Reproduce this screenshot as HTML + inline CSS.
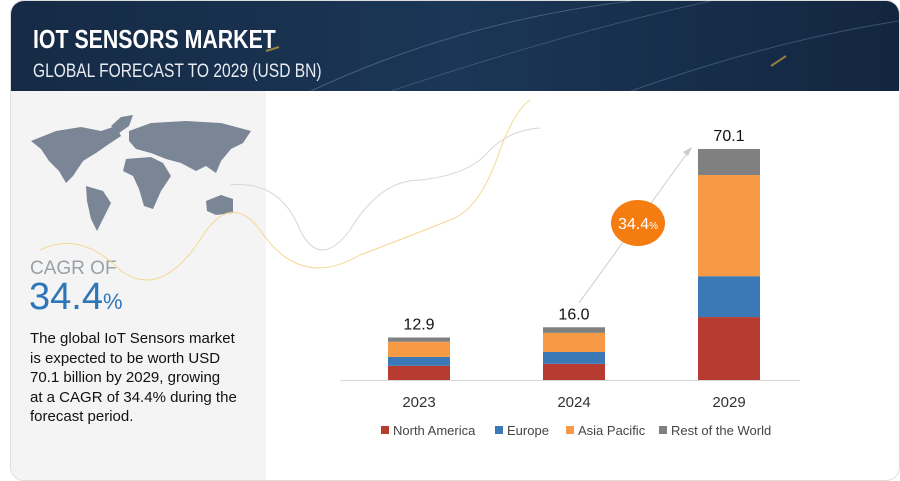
<!DOCTYPE html>
<html><head><meta charset="utf-8"><style>
body{margin:0;width:900px;height:481px;background:#fff;font-family:"Liberation Sans",sans-serif;overflow:hidden;position:relative}
#card{position:absolute;left:10px;top:0;width:888px;height:479px;border:1px solid #ddd;border-radius:14px;overflow:hidden;background:#fff}
#hdr{position:absolute;left:0;top:0;width:888px;height:90px;background:linear-gradient(90deg,#152a45,#1b3656 50%,#132640)}
#left{position:absolute;left:0;top:90px;width:255px;height:389px;background:#f4f4f4}
.t1{position:absolute;left:22px;top:23px;color:#fff;font:bold 26px "Liberation Sans Narrow","Liberation Sans",sans-serif;transform:scaleX(.82);transform-origin:left}
.t2{position:absolute;left:22px;top:60px;color:#e8ecf2;font:19px "Liberation Sans Narrow","Liberation Sans",sans-serif;transform:scaleX(.82);transform-origin:left}
</style></head><body>
<div id="card">
<div id="hdr">
<svg width="888" height="90" style="position:absolute;left:0;top:0">
<path d="M300 90 Q450 20 620 0" stroke="#6f8aa8" stroke-width="1" fill="none" opacity=".5"/>
<path d="M380 90 Q560 30 700 0" stroke="#6f8aa8" stroke-width="1" fill="none" opacity=".4"/>
<path d="M620 90 Q760 40 888 20" stroke="#6f8aa8" stroke-width="1" fill="none" opacity=".4"/>
<path d="M255 50 L268 46" stroke="#e3b53a" stroke-width="2" opacity=".6"/>
<path d="M760 65 L775 55" stroke="#e3b53a" stroke-width="2" opacity=".6"/>
</svg>
<div class="t1">IOT SENSORS MARKET</div>
<div class="t2">GLOBAL FORECAST TO 2029 (USD BN)</div>
</div>
<div id="left">
<svg width="255" height="150" style="position:absolute;left:0;top:0">
<g fill="#7a8595">
<path d="M20 50 L45 40 L70 36 L90 40 L105 35 L110 45 L95 55 L85 62 L72 70 L62 85 L55 92 L48 80 L38 70 L30 58Z"/>
<path d="M100 35 L110 26 L122 24 L118 35 L108 42Z"/>
<path d="M75 95 L92 100 L100 112 L92 128 L86 140 L80 128 L76 110Z"/>
<path d="M118 40 L140 32 L175 30 L210 32 L240 40 L232 52 L220 58 L210 70 L205 82 L195 75 L185 80 L170 72 L155 68 L140 62 L125 58 L118 50Z"/>
<path d="M115 68 L140 66 L152 72 L160 85 L150 100 L142 118 L133 115 L128 98 L122 85 L112 80Z"/>
<path d="M195 110 L210 104 L222 108 L222 122 L205 124 L196 120Z"/>
</g>
</svg>
<div style="position:absolute;left:19px;top:167px;color:#9aa0a8;font-size:19px">CAGR OF</div>
<div style="position:absolute;left:18px;top:185px;color:#2f76b8;font-size:38px">34.4<span style="font-size:22px">%</span></div>
<div style="position:absolute;left:19px;top:238px;color:#111;font-size:15px;line-height:19.5px;white-space:nowrap">The global IoT Sensors market<br>is expected to be worth USD<br>70.1 billion by 2029, growing<br>at a CAGR of 34.4% during the<br>forecast period.</div>
</div>
</div>
<svg id="chart" width="900" height="481" style="position:absolute;left:0;top:0"></svg>
<script>
const categories=["2023","2024","2029"];
const northAmerica=[4.3,4.9,19.1];
const europe=[2.7,3.6,12.4];
const asiaPacific=[4.6,5.8,30.7];
const restOfWorld=[1.3,1.7,7.9];
const totalLabels=["12.9","16.0","70.1"];
const seriesNames=["North America","Europe","Asia Pacific","Rest of the World"];
const colors=["#b83b32","#3a78b6","#f79a45","#808080"];
const series=[northAmerica,europe,asiaPacific,restOfWorld];
const NS="http://www.w3.org/2000/svg";
const svg=document.getElementById('chart');
const base=380,scale=231/70.1,x0=419,step=155,bw=62;
const y=v=>base-v*scale;
const xc=i=>x0+i*step;
function mk(t,a){const e=document.createElementNS(NS,t);for(const k in a)e.setAttribute(k,a[k]);svg.appendChild(e);return e;}
let c=mk('path',{d:"M230 185 Q280 180 300 230 Q320 270 350 230 Q380 180 420 180 Q470 175 490 150 Q510 130 540 128",stroke:"#d6d6d6",fill:"none","stroke-width":1});

c=mk('path',{d:"M40 250 Q80 230 120 270 Q160 300 200 240 Q230 190 260 230 Q300 290 360 255 Q400 240 450 220 Q480 210 500 150 Q515 110 530 100",stroke:"#f2d890",fill:"none","stroke-width":1});

let ax=mk('line',{x1:340,x2:800,y1:base+0.5,y2:base+0.5,stroke:"#d9d9d9","stroke-width":1});

categories.forEach((cat,i)=>{
  let cum=0;
  series.forEach((s,j)=>{
    const r=mk('rect',{x:xc(i)-bw/2,y:y(cum+s[i]),width:bw,height:s[i]*scale,fill:colors[j]});
    
    
    cum+=s[i];
  });
  const t=mk('text',{x:xc(i),y:y(cum)-8,"text-anchor":"middle","font-size":16,fill:"#111"});
  t.textContent=totalLabels[i];
  
  const l=mk('text',{x:xc(i),y:407,"text-anchor":"middle","font-size":15,fill:"#333"});
  l.textContent=cat;
  
});
let ar=mk('line',{x1:579,y1:303,x2:688,y2:152,stroke:"#ccc","stroke-width":1});

let ah=mk('path',{d:"M692 147 L683 152 L688 156Z",fill:"#ccc"});

let el=mk('ellipse',{cx:638,cy:223,rx:27,ry:23,fill:"#f47c10"});

let bt=mk('text',{x:638,y:229,"text-anchor":"middle","font-size":16,fill:"#fff"});
bt.innerHTML='34.4<tspan font-size="10">%</tspan>';

const legX=[381,495,566,659];
seriesNames.forEach((n,j)=>{
  const r=mk('rect',{x:legX[j],y:426,width:8,height:8,fill:colors[j]});
  
  const t=mk('text',{x:legX[j]+12,y:435,"font-size":13,fill:"#444"});
  t.textContent=n;
  
});
</script>
</body></html>
